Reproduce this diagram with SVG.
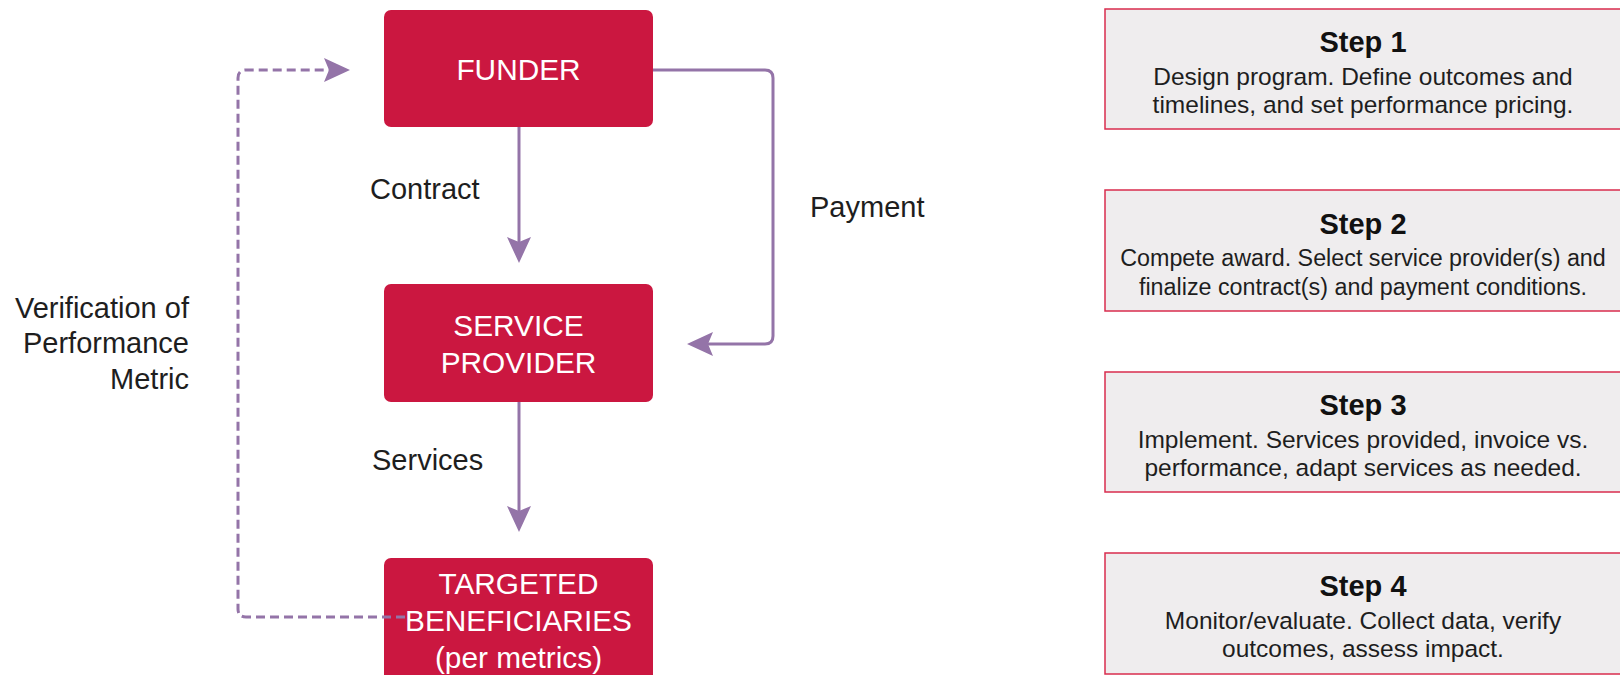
<svg xmlns="http://www.w3.org/2000/svg" width="1620" height="675" viewBox="0 0 1620 675">
<style>
.box{fill:#cb1740}
.bt{fill:#ffffff;font-family:"Liberation Sans",Arial,sans-serif;font-size:29.8px;text-anchor:middle}
.lbl{fill:#1e1e1e;font-family:"Liberation Sans",Arial,sans-serif;font-size:29px}
.step{fill:#efedee;stroke:#d92c4e;stroke-width:1.5}
.st{fill:#111111;font-family:"Liberation Sans",Arial,sans-serif;font-size:29px;font-weight:bold;text-anchor:middle}
.sb{fill:#1e1e1e;font-family:"Liberation Sans",Arial,sans-serif;font-size:24.5px;text-anchor:middle}
.sb2{font-size:23.3px}
.con{fill:none;stroke:#9474a8;stroke-width:3}
.dash{stroke-dasharray:9 5}
</style>
<defs>
<marker id="ah" markerUnits="userSpaceOnUse" viewBox="0 0 26 24" markerWidth="26" markerHeight="24" refX="5" refY="12" orient="auto">
<path d="M0,0 L26,12 L0,24 L5,12 z" fill="#9474a8"/>
</marker>
</defs>
<g id="funder">
<rect class="box" x="384" y="10" width="269" height="117" rx="7"/>
<text class="bt" x="518.5" y="80">FUNDER</text>
</g>
<g id="service-provider">
<rect class="box" x="384" y="284" width="269" height="118" rx="7"/>
<text class="bt" x="518.5" y="336">SERVICE</text>
<text class="bt" x="518.5" y="373">PROVIDER</text>
</g>
<g id="targeted-beneficiaries">
<rect class="box" x="384" y="558" width="269" height="130" rx="7"/>
<text class="bt" x="518.5" y="594">TARGETED</text>
<text class="bt" x="518.5" y="631">BENEFICIARIES</text>
<text class="bt" x="518.5" y="668">(per metrics)</text>
</g>
<g id="connectors">
<path class="con" d="M519,127 V242" marker-end="url(#ah)"/>
<path class="con" d="M519,402 V511" marker-end="url(#ah)"/>
<path class="con" d="M653,70 H765 Q773,70 773,78 V336 Q773,344 765,344 H708" marker-end="url(#ah)"/>
<path class="con dash" d="M405,617 H246 Q238,617 238,609 V78 Q238,70 246,70 H329" marker-end="url(#ah)"/>
<text class="lbl" x="370" y="199">Contract</text>
<text class="lbl" x="810" y="217">Payment</text>
<text class="lbl" x="372" y="470">Services</text>
<text class="lbl" x="189" y="318" text-anchor="end">Verification of</text>
<text class="lbl" x="189" y="353" text-anchor="end">Performance</text>
<text class="lbl" x="189" y="389" text-anchor="end">Metric</text>
</g>
<g id="step1">
<rect class="step" x="1105" y="9" width="520" height="120"/>
<text class="st" x="1363" y="52">Step 1</text>
<text class="sb" x="1363" y="85">Design program. Define outcomes and</text>
<text class="sb" x="1363" y="113">timelines, and set performance pricing.</text>
</g>
<g id="step2">
<rect class="step" x="1105" y="190" width="520" height="121"/>
<text class="st" x="1363" y="234">Step 2</text>
<text class="sb sb2" x="1363" y="266">Compete award. Select service provider(s) and</text>
<text class="sb sb2" x="1363" y="295">finalize contract(s) and payment conditions.</text>
</g>
<g id="step3">
<rect class="step" x="1105" y="372" width="520" height="120"/>
<text class="st" x="1363" y="415">Step 3</text>
<text class="sb" x="1363" y="448">Implement. Services provided, invoice vs.</text>
<text class="sb" x="1363" y="476">performance, adapt services as needed.</text>
</g>
<g id="step4">
<rect class="step" x="1105" y="553" width="520" height="121"/>
<text class="st" x="1363" y="596">Step 4</text>
<text class="sb" x="1363" y="629">Monitor/evaluate. Collect data, verify</text>
<text class="sb" x="1363" y="657">outcomes, assess impact.</text>
</g>
</svg>
